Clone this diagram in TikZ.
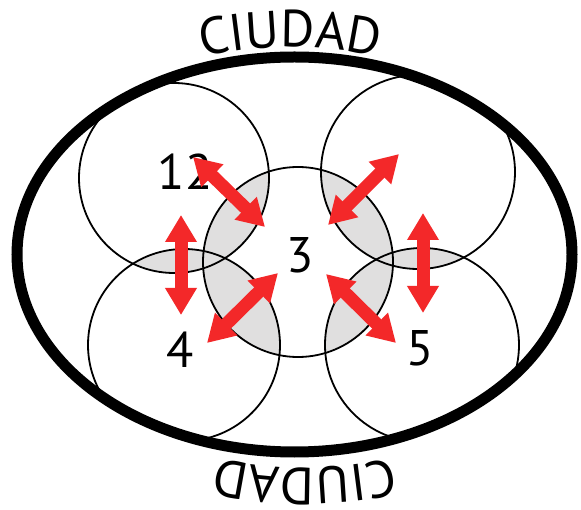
\documentclass[tikz,border=0pt]{standalone}
\usepackage{fontspec}
\setmainfont{PT Sans}
\usetikzlibrary{arrows.meta,decorations.text}
\definecolor{arrowred}{RGB}{243,40,41}
\definecolor{lensgray}{RGB}{224,223,223}
\begin{document}
\begin{tikzpicture}[x=1pt,y=-1pt,
  ring/.style={draw=black,line width=1.8pt},
  city/.style={draw=black,line width=11pt},
  lens/.style={fill=lensgray},
  biarrow/.style={draw=arrowred,line width=13pt,
    {Triangle[length=27pt,width=30pt]}-{Triangle[length=27pt,width=30pt]}},
  num/.style={font=\fontsize{50}{50}\selectfont,inner sep=0pt}]
\useasboundingbox (0,0) rectangle (581,510);
\fill[white] (0,0) rectangle (581,510);
% shaded overlaps
\begin{scope}
  \clip (298,262) circle[radius=95];
  \fill[lens] (174,178) circle[radius=95];
  \fill[lens] (418,172) circle[radius=97];
  \fill[lens] (184,345) circle[radius=96];
  \fill[lens] (422,345) circle[radius=97];
\end{scope}
\begin{scope}
  \clip (174,178) circle[radius=95];
  \fill[lens] (184,345) circle[radius=96];
\end{scope}
\begin{scope}
  \clip (418,172) circle[radius=97];
  \fill[lens] (422,345) circle[radius=97];
\end{scope}
% circles
\begin{scope}
  \clip (294.5,254.5) ellipse[x radius=277.5,y radius=197.5];
  \draw[ring] (174,178) circle[radius=95];
  \draw[ring] (418,172) circle[radius=97];
  \draw[ring] (298,262) circle[radius=95];
  \draw[ring] (184,345) circle[radius=96];
  \draw[ring] (422,345) circle[radius=97];
\end{scope}
% city boundary
\draw[city] (294.5,254.5) ellipse[x radius=277.5,y radius=197.5];
% labels
\node[num] (n12) at (185,172) {12};
\node[num] (n3) at (300,255) {3};
\node[num] (n4) at (180,350) {4};
\node[num] (n5) at (420,348) {5};
% arrow end points
\coordinate (a1s) at (193,157); \coordinate (a1e) at (265,227);
\coordinate (a2s) at (399,154); \coordinate (a2e) at (328,225);
\coordinate (a3s) at (207,343); \coordinate (a3e) at (278,273);
\coordinate (a4s) at (326,274); \coordinate (a4e) at (396,343);
\coordinate (a5s) at (181,215); \coordinate (a5e) at (181,315);
\coordinate (a6s) at (423,213); \coordinate (a6e) at (423,313);
\draw[biarrow] (a1s) -- (a1e);
\draw[biarrow] (a2s) -- (a2e);
\draw[biarrow] (a3s) -- (a3e);
\draw[biarrow] (a4s) -- (a4e);
\draw[biarrow] (a5s) -- (a5e);
\draw[biarrow] (a6s) -- (a6e);
% arced titles
\path[decorate,decoration={text along path,text align=center,
  text={|\fontsize{52}{52}\selectfont|CIUDAD}}]
  (290,447) ++(250:400) arc[start angle=250,end angle=290,radius=400];
\path[decorate,decoration={text along path,text align=center,
  text={|\fontsize{52}{52}\selectfont|CIUDAD}}]
  (305,68) ++(70:400) arc[start angle=70,end angle=110,radius=400];
\end{tikzpicture}
\end{document}
